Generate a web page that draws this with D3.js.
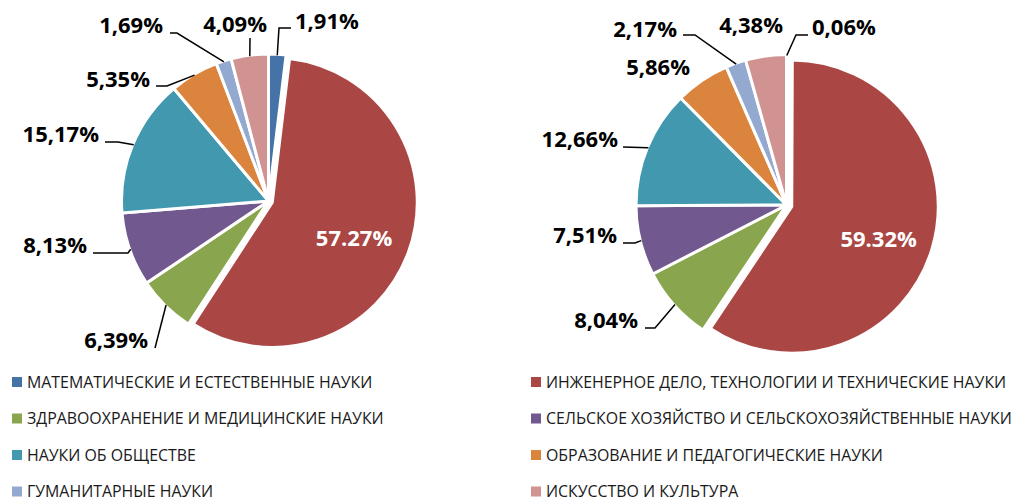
<!DOCTYPE html>
<html>
<head>
<meta charset="utf-8">
<script src="https://cdn.jsdelivr.net/npm/d3@7"></script>
<style>
  body { margin: 0; background: #fff; }
  svg { display: block; }
</style>
</head>
<body>
<div id="chart"></div>
<script>
// Categories (legend order)
var categories = [
  "МАТЕМАТИЧЕСКИЕ И ЕСТЕСТВЕННЫЕ НАУКИ",
  "ИНЖЕНЕРНОЕ ДЕЛО, ТЕХНОЛОГИИ И ТЕХНИЧЕСКИЕ НАУКИ",
  "ЗДРАВООХРАНЕНИЕ И МЕДИЦИНСКИЕ НАУКИ",
  "СЕЛЬСКОЕ ХОЗЯЙСТВО И СЕЛЬСКОХОЗЯЙСТВЕННЫЕ НАУКИ",
  "НАУКИ ОБ ОБЩЕСТВЕ",
  "ОБРАЗОВАНИЕ И ПЕДАГОГИЧЕСКИЕ НАУКИ",
  "ГУМАНИТАРНЫЕ НАУКИ",
  "ИСКУССТВО И КУЛЬТУРА"
];

// Shares, percent
var leftValues = [1.91, 57.27, 6.39, 8.13, 15.17, 5.35, 1.69, 4.09];
var rightValues = [0.06, 59.32, 8.04, 7.51, 12.66, 5.86, 2.17, 4.38];

var colors = ["#4572A7", "#AA4643", "#89A54E", "#71588F", "#4198AF", "#DB843D", "#93A9CF", "#D19392"];

// Label placement (offsets from the pie centre), best-fit positions as in the source
var leftLayout = [
  {x: 26.5, y: -172, anchor: "start", leader: [[10.5, -173], [22.5, -173]]},
  {inside: 0.6, dy: 6},
  {x: -120.5, y: 147, anchor: "end", leader: [[-113.5, 147]]},
  {x: -181.5, y: 52, anchor: "end", leader: [[-140.5, 52], [-175.5, 52]]},
  {x: -169.5, y: -59, anchor: "end", leader: [[-150.5, -59], [-163.5, -59]]},
  {x: -118.5, y: -114, anchor: "end", leader: [[-101.5, -115], [-112.5, -115]]},
  {x: -105.5, y: -168, anchor: "end", leader: [[-91.5, -168], [-98.5, -168]]},
  {x: -1.5, y: -169, anchor: "end", leader: [[-18.5, -163]]}
];

var rightLayout = [
  {x: 25.5, y: -170, anchor: "start", leader: [[9.5, -170], [21.5, -170]]},
  {inside: 0.62, dy: 6},
  {x: -148.5, y: 123, anchor: "end", leader: [[-131.5, 123], [-141.5, 123]]},
  {x: -169.5, y: 38, anchor: "end", leader: [[-151.5, 38], [-163.5, 38]]},
  {x: -168.5, y: -58, anchor: "end", leader: [[-163.5, -58]]},
  {x: -96.5, y: -130, anchor: "end", leader: null},
  {x: -109.5, y: -168, anchor: "end", leader: [[-91.5, -170], [-103.5, -170]]},
  {x: -3.5, y: -172, anchor: "end", leader: null}
];

var width = 1015, height = 503;

var svg = d3.select("#chart").append("svg")
    .attr("width", width)
    .attr("height", height);

var pies = [
  {values: leftValues, layout: leftLayout, cx: 268.5, cy: 201, r: 147, explodeR: 145, explode: 4},
  {values: rightValues, layout: rightLayout, cx: 786.5, cy: 205, r: 150.5, explodeR: 146.5, explode: 5.5}
];

var pie = d3.pie().sort(null).value(function(d) { return d; });

function pctComma(v) { return v.toFixed(2).replace(".", ",") + "%"; }
function pctDot(v) { return v.toFixed(2) + "%"; }

pies.forEach(function(p) {
  var g = svg.append("g")
      .attr("transform", "translate(" + p.cx + "," + p.cy + ")");

  var arcs = pie(p.values);

  function mid(d) { return (d.startAngle + d.endAngle) / 2; }
  function isExploded(i) { return p.layout[i] && p.layout[i].inside; }

  // Slices
  g.selectAll(".slice")
    .data(arcs)
    .enter().append("path")
      .attr("class", "slice")
      .attr("transform", function(d, i) {
        if (!isExploded(i)) return null;
        var a = mid(d);
        return "translate(" + (Math.sin(a) * p.explode) + "," + (-Math.cos(a) * p.explode) + ")";
      })
      .attr("d", function(d, i) {
        return d3.arc().innerRadius(0).outerRadius(isExploded(i) ? p.explodeR : p.r)(d);
      })
      .style("fill", function(d, i) { return colors[i]; })
      .style("stroke", "#fff")
      .style("stroke-width", 3)
      .style("stroke-linejoin", "round");

  // Leader lines
  var line = d3.line();
  arcs.forEach(function(d, i) {
    var l = p.layout[i];
    if (!l || l.inside || !l.leader) return;
    var a = mid(d);
    var start = [Math.sin(a) * (p.r - 1), -Math.cos(a) * (p.r - 1)];
    g.append("path")
        .attr("d", line([start].concat(l.leader)))
        .style("fill", "none")
        .style("stroke", "#000")
        .style("stroke-width", 1.5);
  });

  // Labels
  arcs.forEach(function(d, i) {
    var l = p.layout[i];
    if (l.inside) {
      var a = mid(d);
      var rr = p.explodeR * l.inside + p.explode;
      g.append("text")
          .attr("x", Math.sin(a) * rr)
          .attr("y", -Math.cos(a) * rr + l.dy)
          .attr("dy", "0.35em")
          .attr("text-anchor", "middle")
          .attr("class", "val")
          .style("fill", "#fff")
          .text(pctDot(d.data));
    } else {
      g.append("text")
          .attr("x", l.x)
          .attr("y", l.y)
          .attr("text-anchor", l.anchor)
          .attr("class", "val")
          .style("fill", "#000")
          .text(pctComma(d.data));
    }
  });
});

svg.selectAll(".val")
    .style("font-family", "'Open Sans', sans-serif")
    .style("font-weight", 700)
    .style("font-size", "22px");

// Legend, two columns
var legendCols = [12, 531], legendTop = 382, legendStep = 36.5;

var legend = svg.append("g").attr("class", "legend");

var item = legend.selectAll(".legend-item")
    .data(categories)
  .enter().append("g")
    .attr("class", "legend-item")
    .attr("transform", function(d, i) {
      return "translate(" + legendCols[i % 2] + "," + (legendTop + Math.floor(i / 2) * legendStep) + ")";
    });

item.append("rect")
    .attr("x", 0)
    .attr("y", -5)
    .attr("width", 10)
    .attr("height", 10)
    .style("fill", function(d, i) { return colors[i]; });

item.append("text")
    .attr("x", 15)
    .attr("y", 0)
    .attr("dy", "0.36em")
    .style("font-family", "'Open Sans', sans-serif")
    .style("font-size", "15.9px")
    .style("fill", "#1a1a1a")
    .text(function(d) { return d; });
</script>
</body>
</html>
